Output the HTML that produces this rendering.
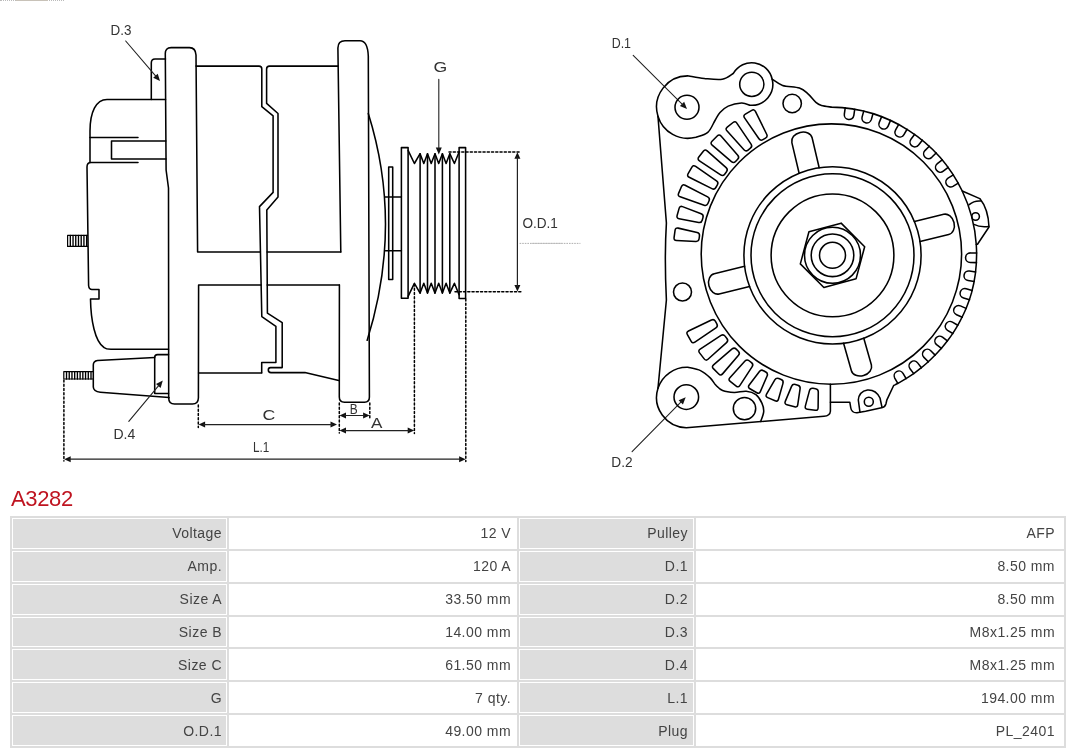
<!DOCTYPE html>
<html><head><meta charset="utf-8"><style>
html,body{margin:0;padding:0;background:#fff;}
body{width:1080px;height:753px;position:relative;overflow:hidden;font-family:"Liberation Sans",sans-serif;}
svg.dr{position:absolute;left:0;top:0;will-change:transform;}
svg.dr text{font-family:"Liberation Sans",sans-serif;font-size:14.5px;fill:#333;stroke:none;}
.topdots{position:absolute;left:0;top:0;width:64px;height:0;border-top:1px dotted #bbb;}
h1{will-change:transform;position:absolute;left:11px;top:487px;margin:0;font-weight:normal;font-size:22px;line-height:24px;letter-spacing:-0.35px;color:#bf1420;}
table{will-change:transform;position:absolute;left:10px;top:516px;width:1056px;border-collapse:separate;border-spacing:2px;background:#ddd;}
td{border:1px solid #fff;padding:0 6px 0 0;height:30.86px;box-sizing:border-box;text-align:right;font-size:14px;letter-spacing:0.45px;color:#444;}
td.l{background:#ddd;}
tr td:nth-child(1){padding-right:4px;} tr td:nth-child(2),tr td:nth-child(3){padding-right:5px;} tr td:nth-child(4){padding-right:8px;}
td.v{background:#fff;}
</style></head><body>
<div class="topdots"></div><div style="position:absolute;left:16px;top:0;width:32px;height:1px;background:#c8c2b8;"></div>
<svg class="dr" width="1080" height="480" viewBox="0 0 1080 480" fill="none" stroke="#000" stroke-width="1.55" stroke-linejoin="round" stroke-linecap="round">
<path d="M165.5,99.4 H107 C96,99.4 90,112 90,131 V162.5" />
<path d="M90,137.5 H138" />
<path d="M165.8,141 H111.5 V159 H166" />
<path d="M138,162.5 H91 Q87,162.5 87,167 L88.6,285.5 Q89,289.5 92,289.5 H99 V299 H90.5 C90.8,320 95,342 104,347.5 Q106,349.2 111,349.2 H168.5" />
<path d="M67.6,235.4 H87.5 M67.6,246.4 H87.5 M67.6,235.4 V246.4" stroke-width="1.2"/>
<path d="M70.32,235.4 V246.4 M73.04,235.4 V246.4 M75.76,235.4 V246.4 M78.48,235.4 V246.4 M81.2,235.4 V246.4 M83.92,235.4 V246.4 M86.64,235.4 V246.4 " stroke-width="1.35"/>
<path d="M63.8,371.6 H93.3 M63.8,379 H93.3 M63.8,371.6 V379" stroke-width="1.2"/>
<path d="M66.52,371.6 V379 M69.24,371.6 V379 M71.96,371.6 V379 M74.68,371.6 V379 M77.4,371.6 V379 M80.12,371.6 V379 M82.84,371.6 V379 M85.56,371.6 V379 M88.28,371.6 V379 M91,371.6 V379 " stroke-width="1.35"/>
<path d="M168.7,398 L168.5,188 L166.1,170 L165.3,54 Q165.1,47.6 171.2,47.6 H189.5 Q195.6,47.6 196,55 L197.6,252 H260.4 M267.1,252 H340.8" />
<path d="M339.4,285 H267.2 M261.1,285 H198.6 L198.4,398 Q198.2,404 192.5,404 H174.5 Q168.7,404 168.7,398" />
<path d="M165.5,59 H155 Q151.3,59 151.3,63 V99.4" />
<path d="M196,66.1 H259 Q261.8,66.1 261.8,69 V106.7 L273.1,115.8 V192.4 L259.5,206.6 L261.8,316.6 L275.9,326.3 V362.5 H261.7 V372.8" />
<path d="M338,66.1 H269.5 Q266.6,66.1 266.6,69 V103.4 L278,113.5 V197 L266.8,210 L267.4,313.2 L282.2,322.7 V367.6 H270.5 Q268.3,367.6 268.3,370 Q268.3,372.6 271,372.6 H304.9 L338.8,380.4" />
<path d="M198.6,373 H261.7" />
<path d="M339.4,285 L339.3,397 Q339.3,402.2 344.5,402.2 H364.5 Q369.4,402.2 369.4,397 L368.3,56 Q367.6,40.8 360,40.8 H345 Q338,40.8 337.9,48 L340.8,252" />
<path d="M368.3,113.5 Q403.2,225 367.2,340.3" />
<path d="M385,197 H401.4 M385.5,250.8 H401.4" />
<path d="M388.7,167 H392.7 V279.5 H388.7 Z" />
<path d="M401.4,147.6 H408.1 V298.2 H401.4 Z" />
<path d="M459.1,147.6 H465.6 V298.4 H459.1 Z" />
<path d="M408.1,150.4 L414.4,163.5 L420.1,153.7 L423.8,163.5 L427.5,153.7 L431.2,163.5 L435,153.7 L438.7,163.5 L442.4,153.7 L446.1,163.5 L449.8,153.7 L454.4,163.5 L459.1,152" />
<path d="M408.1,296.4 L414.4,283.3 L420.1,293.1 L423.8,283.3 L427.5,293.1 L431.2,283.3 L435,293.1 L438.7,283.3 L442.4,293.1 L446.1,283.3 L449.8,293.1 L454.4,283.3 L459.1,294.8" />
<path d="M420.1,153.7 V293.1 M427.5,153.7 V293.1 M435,153.7 V293.1 M442.4,153.7 V293.1 M449.8,153.7 V293.1 " />
<path d="M168.5,354.6 H157.5 Q154.7,354.6 154.7,357.5 V393.5 H168.5" />
<path d="M154.7,357.4 L97.5,360.6 Q93.3,361.2 93.3,365 V387 Q93.5,391.6 100.3,392.2 L169,397.6" />
<path d="M449,151.9 L521,151.9" stroke-dasharray="2.1 2.15" stroke-width="1.5"/>
<path d="M455,291.8 L521,291.8" stroke-dasharray="2.1 2.15" stroke-width="1.5"/>
<path d="M517.4,291.6 L514.4,285.1 L520.4,285.1 Z" fill="#111" stroke="none"/>
<path d="M517.4,152.2 L520.4,158.7 L514.4,158.7 Z" fill="#111" stroke="none"/>
<path d="M517.4,157.2 L517.4,286.6" stroke="#222" stroke-width="1.2"/>
<path d="M414.4,284 L414.4,433.5" stroke-dasharray="2.1 2.15" stroke-width="1.5"/>
<path d="M465.8,299 L465.8,461.5" stroke-dasharray="2.1 2.15" stroke-width="1.5"/>
<path d="M339.3,403 L339.3,433" stroke-dasharray="2.1 2.15" stroke-width="1.5"/>
<path d="M369.8,403 L369.8,418" stroke-dasharray="2.1 2.15" stroke-width="1.5"/>
<path d="M198.3,405 L198.3,427.5" stroke-dasharray="2.1 2.15" stroke-width="1.5"/>
<path d="M63.9,380 L63.9,461" stroke-dasharray="2.1 2.15" stroke-width="1.5"/>
<path d="M369.6,415.5 L363.1,418.5 L363.1,412.5 Z" fill="#111" stroke="none"/>
<path d="M339.5,415.5 L346,412.5 L346,418.5 Z" fill="#111" stroke="none"/>
<path d="M344.5,415.5 L364.6,415.5" stroke="#222" stroke-width="1.2"/>
<path d="M414.2,430.6 L407.7,433.6 L407.7,427.6 Z" fill="#111" stroke="none"/>
<path d="M339.5,430.6 L346,427.6 L346,433.6 Z" fill="#111" stroke="none"/>
<path d="M344.5,430.6 L409.2,430.6" stroke="#222" stroke-width="1.2"/>
<path d="M337,424.6 L330.5,427.6 L330.5,421.6 Z" fill="#111" stroke="none"/>
<path d="M198.6,424.6 L205.1,421.6 L205.1,427.6 Z" fill="#111" stroke="none"/>
<path d="M203.6,424.6 L332,424.6" stroke="#222" stroke-width="1.2"/>
<path d="M465.6,459.2 L459.1,462.2 L459.1,456.2 Z" fill="#111" stroke="none"/>
<path d="M64.2,459.2 L70.7,456.2 L70.7,462.2 Z" fill="#111" stroke="none"/>
<path d="M69.2,459.2 L460.6,459.2" stroke="#222" stroke-width="1.2"/>
<path d="M438.8,154.5 L435.8,147.5 L441.8,147.5 Z" fill="#111" stroke="none"/>
<path d="M438.8,79.4 L438.8,149" stroke="#222" stroke-width="1.1"/>
<path d="M160,81 L153.17,77.64 L157.72,73.73 Z" fill="#111" stroke="none"/>
<path d="M125.7,41 L156.42,76.82" stroke="#222" stroke-width="1.1"/>
<path d="M162.8,380.6 L160.62,387.9 L156.01,384.06 Z" fill="#111" stroke="none"/>
<path d="M128.8,421.4 L159.28,384.83" stroke="#222" stroke-width="1.1"/>
<path d="M687,108.9 L679.92,106.08 L684.16,101.83 Z" fill="#111" stroke="none"/>
<path d="M633.2,55.3 L683.1,105.02" stroke="#222" stroke-width="1.1"/>
<path d="M685.7,397.3 L682.92,404.39 L678.65,400.18 Z" fill="#111" stroke="none"/>
<path d="M632.1,451.7 L681.84,401.22" stroke="#222" stroke-width="1.1"/>
<path d="M520,243.4 H580" stroke="#999" stroke-width="0.8" stroke-dasharray="0.8 1.8"/>
<path d="M532,243.4 H562" stroke="#bbb" stroke-width="0.8"/>
<text x="110.5" y="34.6" textLength="20.9" lengthAdjust="spacingAndGlyphs">D.3</text>
<text x="433.6" y="71.7" textLength="13.7" lengthAdjust="spacingAndGlyphs">G</text>
<text x="522.4" y="228.2" textLength="35.5" lengthAdjust="spacingAndGlyphs">O.D.1</text>
<text x="262.5" y="420.1" textLength="12.8" lengthAdjust="spacingAndGlyphs">C</text>
<text x="349.8" y="413.6" textLength="7.9" lengthAdjust="spacingAndGlyphs">B</text>
<text x="371.1" y="428.3" textLength="11.4" lengthAdjust="spacingAndGlyphs">A</text>
<text x="253" y="452.2" textLength="16.3" lengthAdjust="spacingAndGlyphs">L.1</text>
<text x="113.5" y="438.9" textLength="21.8" lengthAdjust="spacingAndGlyphs">D.4</text>
<text x="611.7" y="47.9" textLength="19.3" lengthAdjust="spacingAndGlyphs">D.1</text>
<text x="611.3" y="467.3" textLength="21.3" lengthAdjust="spacingAndGlyphs">D.2</text>
<circle cx="832.5" cy="255.3" r="13" />
<circle cx="832.5" cy="255.3" r="21.3" />
<circle cx="832.5" cy="255.3" r="28" />
<circle cx="832.5" cy="255.3" r="61.4" />
<circle cx="832.5" cy="255.3" r="81.5" />
<circle cx="832.5" cy="255.3" r="88.6" />
<circle cx="831.4" cy="254.05" r="130.2" />
<path d="M841.12,223.13 L864.67,246.68 L856.05,278.85 L823.88,287.47 L800.33,263.92 L808.95,231.75 Z" />
<path d="M819.18,167.71 L812.11,137.78 C811.09,133.48 805.73,131.07 800.14,132.39 C794.55,133.71 790.85,138.27 791.86,142.57 L799.11,173.23" />
<path d="M920.03,241.56 L948.7,234.52 C952.99,233.46 955.36,228.09 953.99,222.51 C952.62,216.93 948.03,213.26 943.74,214.32 L914.41,221.52" />
<path d="M843.58,343.2 L851.4,370.67 C852.61,374.92 858.07,377.09 863.59,375.52 C869.12,373.94 872.62,369.22 871.41,364.97 L863.78,338.2" />
<path d="M744.59,266.33 L714.23,273.73 C709.94,274.77 707.56,280.15 708.92,285.73 C710.28,291.31 714.86,294.98 719.15,293.94 L749.58,286.52" />
<path d="M762.93,139.68 Q760.51,141.1 758.93,138.79 L744.54,117.83 Q742.96,115.52 745.37,114.1 L751.75,110.36 Q754.17,108.94 755.41,111.45 L766.69,134.23 Q767.93,136.74 765.51,138.16 Z" />
<path d="M748.06,150.04 Q745.86,151.77 743.98,149.7 L726.92,130.85 Q725.04,128.78 727.24,127.05 L733.06,122.49 Q735.26,120.76 736.83,123.08 L751.06,144.14 Q752.63,146.46 750.42,148.19 Z" />
<path d="M735.54,161.46 Q733.57,163.45 731.44,161.62 L712.15,145.07 Q710.03,143.24 712,141.25 L717.2,136 Q719.17,134.01 721.01,136.11 L737.77,155.23 Q739.61,157.33 737.65,159.32 Z" />
<path d="M724.68,174.16 Q722.97,176.38 720.64,174.83 L699.45,160.79 Q697.12,159.24 698.82,157.02 L703.34,151.16 Q705.05,148.94 707.14,150.81 L726.13,167.7 Q728.22,169.57 726.51,171.78 Z" />
<path d="M715.83,187.5 Q714.4,189.9 711.9,188.64 L689.2,177.21 Q686.69,175.95 688.13,173.54 L691.92,167.19 Q693.35,164.78 695.65,166.38 L716.5,180.92 Q718.8,182.52 717.37,184.92 Z" />
<path d="M707.89,203.52 Q706.79,206.1 704.14,205.18 L680.13,196.85 Q677.48,195.93 678.58,193.36 L681.5,186.56 Q682.6,183.98 685.09,185.27 L707.68,196.91 Q710.17,198.19 709.07,200.77 Z" />
<path d="M702.2,220.23 Q701.44,222.93 698.69,222.4 L679.11,218.68 Q676.36,218.16 677.11,215.46 L679.12,208.34 Q679.87,205.65 682.49,206.64 L701.15,213.66 Q703.77,214.65 703.01,217.34 Z" />
<path d="M699.08,238.77 Q698.7,241.55 695.91,241.42 L676.5,240.52 Q673.7,240.39 674.07,237.61 L675.06,230.28 Q675.44,227.51 678.17,228.12 L697.13,232.41 Q699.86,233.03 699.48,235.8 Z" />
<path d="M716.83,323.81 Q718.23,326.24 715.91,327.81 L694.9,342.12 Q692.59,343.7 691.19,341.27 L687.39,334.69 Q685.99,332.27 688.51,331.05 L711.41,320.01 Q713.93,318.79 715.33,321.22 Z" />
<path d="M726.91,338.51 Q728.61,340.73 726.53,342.6 L707.99,359.25 Q705.9,361.12 704.19,358.9 L699.56,352.88 Q697.85,350.67 700.19,349.13 L721.03,335.45 Q723.37,333.92 725.08,336.13 Z" />
<path d="M738.34,351.25 Q740.31,353.24 738.49,355.36 L722.56,373.87 Q720.73,376 718.75,374.01 L713.39,368.63 Q711.41,366.65 713.54,364.83 L732.11,348.96 Q734.24,347.15 736.22,349.13 Z" />
<path d="M751.48,362.58 Q753.69,364.29 752.17,366.64 L739.95,385.45 Q738.43,387.8 736.21,386.09 L730.2,381.45 Q727.99,379.73 729.88,377.67 L745,361.1 Q746.89,359.04 749.11,360.75 Z" />
<path d="M765.79,372.03 Q768.21,373.44 767.1,376.01 L760.35,391.59 Q759.23,394.16 756.82,392.74 L749.91,388.71 Q747.49,387.3 749.19,385.06 L759.44,371.54 Q761.13,369.3 763.55,370.72 Z" />
<path d="M781.17,379.56 Q783.74,380.65 782.97,383.34 L778.44,399.19 Q777.67,401.88 775.09,400.79 L767.73,397.66 Q765.15,396.57 766.55,394.14 L774.8,379.87 Q776.2,377.45 778.78,378.54 Z" />
<path d="M797.83,385.2 Q800.52,385.94 800.11,388.71 L797.73,404.82 Q797.32,407.59 794.62,406.84 L786.92,404.7 Q784.22,403.96 785.29,401.37 L791.55,386.34 Q792.62,383.75 795.32,384.5 Z" />
<path d="M815.54,388.67 Q818.32,389.05 818.29,391.85 L818.11,407.83 Q818.08,410.63 815.31,410.25 L807.39,409.17 Q804.61,408.79 805.34,406.08 L809.47,390.64 Q810.19,387.94 812.97,388.32 Z" />
<path d="M854.72,109.25 L853.85,115.38 A4.8,4.8 0 0 1 844.34,114.03 L845.22,107.89" />
<path d="M872.97,113.67 L871.32,119.64 A4.8,4.8 0 0 1 862.07,117.1 L863.72,111.12" />
<path d="M890.51,120.37 L888.12,126.09 A4.8,4.8 0 0 1 879.26,122.39 L881.65,116.67" />
<path d="M907.06,129.25 L903.96,134.62 A4.8,4.8 0 0 1 895.64,129.82 L898.74,124.45" />
<path d="M922.34,140.16 L918.58,145.09 A4.8,4.8 0 0 1 910.95,139.27 L914.7,134.34" />
<path d="M936.12,152.92 L931.76,157.33 A4.8,4.8 0 0 1 924.93,150.59 L929.28,146.18" />
<path d="M948.16,167.33 L943.28,171.15 A4.8,4.8 0 0 1 937.35,163.6 L942.23,159.77" />
<path d="M958.27,183.15 L952.94,186.32 A4.8,4.8 0 0 1 948.03,178.08 L953.35,174.9" />
<path d="M976.45,262.64 L970.25,262.5 A4.8,4.8 0 0 1 970.47,252.9 L976.67,253.05" />
<path d="M974.2,281.41 L968.07,280.48 A4.8,4.8 0 0 1 969.52,270.99 L975.65,271.92" />
<path d="M969.52,299.73 L963.56,298.02 A4.8,4.8 0 0 1 966.21,288.79 L972.17,290.5" />
<path d="M962.27,317.17 L956.58,314.72 A4.8,4.8 0 0 1 960.38,305.9 L966.07,308.36" />
<path d="M952.86,333.51 L947.53,330.34 A4.8,4.8 0 0 1 952.43,322.09 L957.76,325.25" />
<path d="M941.47,348.47 L936.59,344.65 A4.8,4.8 0 0 1 942.5,337.09 L947.38,340.91" />
<path d="M928.3,361.83 L923.94,357.41 A4.8,4.8 0 0 1 930.78,350.67 L935.13,355.09" />
<path d="M913.75,373.62 L910,368.69 A4.8,4.8 0 0 1 917.64,362.88 L921.39,367.81" />
<path d="M897.82,383.46 L894.73,378.08 A4.8,4.8 0 0 1 903.05,373.3 L906.14,378.67" />
<circle cx="687" cy="107.2" r="12" />
<circle cx="751.8" cy="84.3" r="12.1" />
<circle cx="792.2" cy="103.5" r="9.2" />
<circle cx="682.5" cy="292" r="9" />
<circle cx="686.3" cy="397.1" r="12.3" />
<circle cx="744.5" cy="408.6" r="11.2" />
<circle cx="975.6" cy="216.5" r="3.8" />
<circle cx="868.8" cy="401.7" r="4.5" />
<path d="M657.96,116.22 A31.2,31.2 0 0 1 688.89,75.92 C691.44,76.33 698.65,77.84 704.2,78.4 C709.75,78.96 717.32,80.17 722.2,79.3 C727.08,78.43 731.62,74.22 733.5,73.2 A21,21 0 0 1 772.18,79.22 C773.91,80.25 778.06,83.92 782.6,85.4 C787.14,86.88 795.17,86.7 799.4,88.1 C803.63,89.5 805.25,91.42 808,93.8 C810.75,96.18 813.65,100.43 815.9,102.4 C818.15,104.37 818.85,104.81 821.5,105.6 C824.15,106.39 830.06,106.87 831.77,107.12 A147.4,147.4 0 0 1 962.24,191.04 L979.8,198.6 C985,205 988.5,215 989,227 L977.5,244.2 L976.26,244.47 A147.4,147.4 0 0 1 971.58,292.65 C971.19,293.88 970.09,297.58 969.25,300.01 C968.41,302.43 967.51,304.84 966.55,307.22 C965.59,309.6 964.56,311.96 963.47,314.28 C962.39,316.61 961.24,318.9 960.04,321.16 C958.83,323.43 957.57,325.66 956.25,327.85 C954.93,330.04 953.55,332.2 952.12,334.32 C950.68,336.44 949.2,338.52 947.66,340.56 C946.12,342.6 944.52,344.6 942.88,346.56 C941.24,348.51 939.54,350.42 937.8,352.29 C936.06,354.15 934.26,355.95 932.44,357.74 C930.62,359.52 928.79,361.29 926.89,363 C925,364.7 923.06,366.36 921.08,367.96 C919.1,369.57 917.08,371.12 915.02,372.62 C912.96,374.11 910.85,375.56 908.72,376.95 C906.58,378.33 904.41,379.67 902.2,380.94 C899.99,382.21 896.91,383.83 895.48,384.59 C894.06,385.35 893.96,385.35 893.66,385.5 L886.9,399.8 L885.9,404 Q885,407.3 881.5,407.7 L865.6,411.3 L857,412.8 Q851.6,413 850.8,408 L849.8,402.2 H830.4 V411.3 Q830,416 824,416.3 L686.3,427.7 A30.3,30.3 0 0 1 657.98,388.24 L666.4,300 Q664.3,258 666.4,223 Z" />
<path d="M657.96,116.22 A31.2,31.2 0 0 0 695.88,137.24 C697.86,136.43 704.61,135.19 707.8,132.4 C710.99,129.61 712.97,123.82 715,120.5 C717.03,117.18 717.8,114.9 720,112.5 C722.2,110.1 724.62,107.67 728.2,106.1 C731.78,104.53 737.87,103.25 741.5,103.1 C745.13,102.95 748.56,104.87 749.97,105.22 A21,21 0 0 0 772.18,79.22" />
<path d="M657.98,388.24 A30.3,30.3 0 0 1 687.86,367.32 C689.96,367.87 696.78,368.84 700.5,370.6 C704.22,372.36 707.62,375.45 710.2,377.9 C712.78,380.35 713.93,383.2 716,385.3 C718.07,387.4 719.57,389.32 722.6,390.5 C725.63,391.68 730.25,392.27 734.2,392.4 C738.15,392.53 742.68,390.92 746.3,391.3 C749.92,391.68 753.3,392.73 755.9,394.7 C758.5,396.67 760.6,400.28 761.9,403.1 C763.2,405.92 763.9,408.53 763.7,411.6 C763.5,414.67 761.2,419.85 760.7,421.5" />
<path d="M969.2,204.6 Q974,200.5 980.5,201" />
<path d="M973.9,224.4 Q980,227.5 988.8,226.4" />
<path d="M860,412.3 L858.3,400 Q859,391.5 867.5,390 Q876,389.5 880,398 L882,407.4" />
<path d="M830.4,384.3 V402.2" />
<path d="M962.24,191.04 A147.4,147.4 0 0 1 976.26,244.47" />
</svg>
<h1>A3282</h1>
<table>
<colgroup><col style="width:215px"><col style="width:288px"><col style="width:175px"><col style="width:368px"></colgroup>
<tr><td class="l">Voltage</td><td class="v">12 V</td><td class="l">Pulley</td><td class="v">AFP</td></tr>
<tr><td class="l">Amp.</td><td class="v">120 A</td><td class="l">D.1</td><td class="v">8.50 mm</td></tr>
<tr><td class="l">Size A</td><td class="v">33.50 mm</td><td class="l">D.2</td><td class="v">8.50 mm</td></tr>
<tr><td class="l">Size B</td><td class="v">14.00 mm</td><td class="l">D.3</td><td class="v">M8x1.25 mm</td></tr>
<tr><td class="l">Size C</td><td class="v">61.50 mm</td><td class="l">D.4</td><td class="v">M8x1.25 mm</td></tr>
<tr><td class="l">G</td><td class="v">7 qty.</td><td class="l">L.1</td><td class="v">194.00 mm</td></tr>
<tr><td class="l">O.D.1</td><td class="v">49.00 mm</td><td class="l">Plug</td><td class="v">PL_2401</td></tr>
</table>
</body></html>
